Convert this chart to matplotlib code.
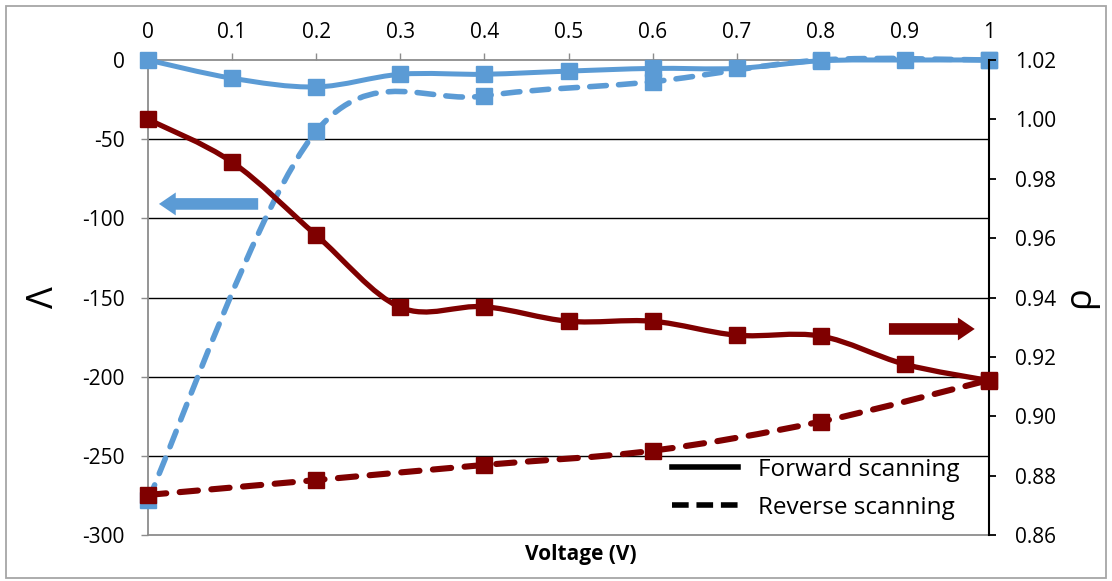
import matplotlib
matplotlib.use("Agg")
import matplotlib.pyplot as plt
from matplotlib.path import Path
from matplotlib.patches import PathPatch, Rectangle
from matplotlib.lines import Line2D
import numpy as np

plt.rcParams['font.family'] = ['Open Sans', 'DejaVu Sans']

# ---- data ----
voltage_fwd = [0, 0.1, 0.2, 0.3, 0.4, 0.5, 0.6, 0.7, 0.8, 0.9, 1.0]
lambda_fwd = [0, -11.5, -17, -9, -9, -7, -5.3, -5.3, -0.5, 0, 0]
rho_fwd = [1.000, 0.9856, 0.961, 0.9367, 0.9369, 0.932, 0.932, 0.9273, 0.927, 0.9175, 0.912]

voltage_rev = [0, 0.2, 0.4, 0.6, 0.8, 1.0]
lambda_rev = [-278, -45, -22.7, -13.7, 0, 0]
rho_rev = [0.8735, 0.8785, 0.8836, 0.8884, 0.8982, 0.9122]

x_ticks = [0, 0.1, 0.2, 0.3, 0.4, 0.5, 0.6, 0.7, 0.8, 0.9, 1]
x_ticklabels = ['0', '0.1', '0.2', '0.3', '0.4', '0.5', '0.6', '0.7', '0.8', '0.9', '1']
left_ticks = [0, -50, -100, -150, -200, -250, -300]
right_ticks = [0.86, 0.88, 0.90, 0.92, 0.94, 0.96, 0.98, 1.00, 1.02]

legend_labels = ['Forward scanning', 'Reverse scanning']

BLUE = '#5B9BD5'
RED = '#7F0000'
GRAY = '#8C8C8C'


def smooth_path(xs, ys):
    pts = np.column_stack([xs, ys]).astype(float)
    n = len(pts)
    verts = [pts[0]]
    codes = [Path.MOVETO]
    for i in range(n - 1):
        p0 = pts[i - 1] if i > 0 else pts[i]
        p1 = pts[i]
        p2 = pts[i + 1]
        p3 = pts[i + 2] if i + 2 < n else pts[i + 1]
        c1 = p1 + (p2 - p0) / 6.0
        c2 = p2 - (p3 - p1) / 6.0
        verts += [c1, c2, p2]
        codes += [Path.CURVE4] * 3
    return Path(verts, codes)


def draw_series(ax, xs, ys, color, lw, dashed, z):
    patch = PathPatch(smooth_path(xs, ys), fill=False, edgecolor=color, lw=lw,
                      capstyle='round', joinstyle='round', zorder=z, clip_on=False)
    if dashed:
        patch.set_linestyle((0, (3.0, 2.2)))
    ax.add_patch(patch)
    ax.plot(xs, ys, linestyle='none', marker='s', markersize=11.5,
            markerfacecolor=color, markeredgecolor=color, zorder=z + 0.1, clip_on=False)


fig = plt.figure(figsize=(11.12, 5.81), dpi=100)
ax = fig.add_axes([0.1331, 0.0792, 0.8894 - 0.1331, 0.8967 - 0.0792])
ax2 = ax.twinx()

ax.set_xlim(0, 1)
ax.set_ylim(-300, 0)
ax2.set_ylim(0.86, 1.02)

# gridlines
for t in left_ticks[1:-1]:
    ax.axhline(t, color='black', lw=1.0, zorder=0.5)

# series
draw_series(ax, voltage_fwd, lambda_fwd, BLUE, 3.6, False, 3)
draw_series(ax, voltage_rev, lambda_rev, BLUE, 4.0, True, 3)
ax2.set_zorder(ax.get_zorder() + 1)
ax2.patch.set_visible(False)
draw_series(ax2, voltage_fwd, rho_fwd, RED, 3.8, False, 3)
draw_series(ax2, voltage_rev, rho_rev, RED, 4.4, True, 3)

# arrows
arrow_style = 'simple,head_length=0.55,head_width=0.75,tail_width=0.38'
ax.annotate('', xy=(0.013, -90.9), xytext=(0.131, -90.9),
            arrowprops=dict(arrowstyle=arrow_style, mutation_scale=22,
                            color=BLUE, lw=0, shrinkA=0, shrinkB=0), annotation_clip=False)
ax2.annotate('', xy=(0.983, 0.9294), xytext=(0.881, 0.9294),
             arrowprops=dict(arrowstyle=arrow_style, mutation_scale=22,
                             color=RED, lw=0, shrinkA=0, shrinkB=0), annotation_clip=False)

# axes styling
TICK_FS = 15
ax.xaxis.tick_top()
ax.set_xticks(x_ticks)
ax.set_xticklabels(x_ticklabels, fontsize=TICK_FS)
ax.tick_params(axis='x', direction='out', length=5, color=GRAY, width=1, pad=7)
ax.set_yticks(left_ticks)
ax.set_yticklabels([str(t) for t in left_ticks], fontsize=TICK_FS)
ax.tick_params(axis='y', direction='out', length=5, color=GRAY, width=1, pad=12)
for s in ['left', 'bottom', 'top']:
    ax.spines[s].set_color(GRAY)
    ax.spines[s].set_linewidth(1.3)
ax.spines['right'].set_visible(False)

ax2.set_yticks(right_ticks)
ax2.set_yticklabels(['%.2f' % t for t in right_ticks], fontsize=TICK_FS)
ax2.tick_params(axis='y', direction='out', length=5, color='black', width=1.3, pad=14)
ax2.spines['right'].set_color('black')
ax2.spines['right'].set_linewidth(1.5)
for s in ['left', 'bottom', 'top']:
    ax2.spines[s].set_visible(False)

ax.set_ylabel('Λ', fontsize=26, labelpad=14)
ax2.set_ylabel('ρ', fontsize=26, labelpad=4)
fig.text(0.522, 0.045, 'Voltage (V)', fontsize=15, fontweight='bold', ha='center', va='center')

# legend
handles = [Line2D([], [], color='black', lw=4.0, linestyle='-'),
           Line2D([], [], color='black', lw=4.0, linestyle=(0, (3.0, 1.4)))]
leg = ax.legend(handles, legend_labels, loc='upper left', bbox_to_anchor=(0.623, 0.163),
                frameon=False, fontsize=17.5, handlelength=2.7, handletextpad=0.85,
                labelspacing=0.58, borderpad=0, borderaxespad=0)

# outer border
fig.patches.append(Rectangle((0.005, 0.005), 0.99, 0.985, transform=fig.transFigure,
                             fill=False, edgecolor='#A6A6A6', lw=1.3))

fig.savefig('out.png', dpi=100)
